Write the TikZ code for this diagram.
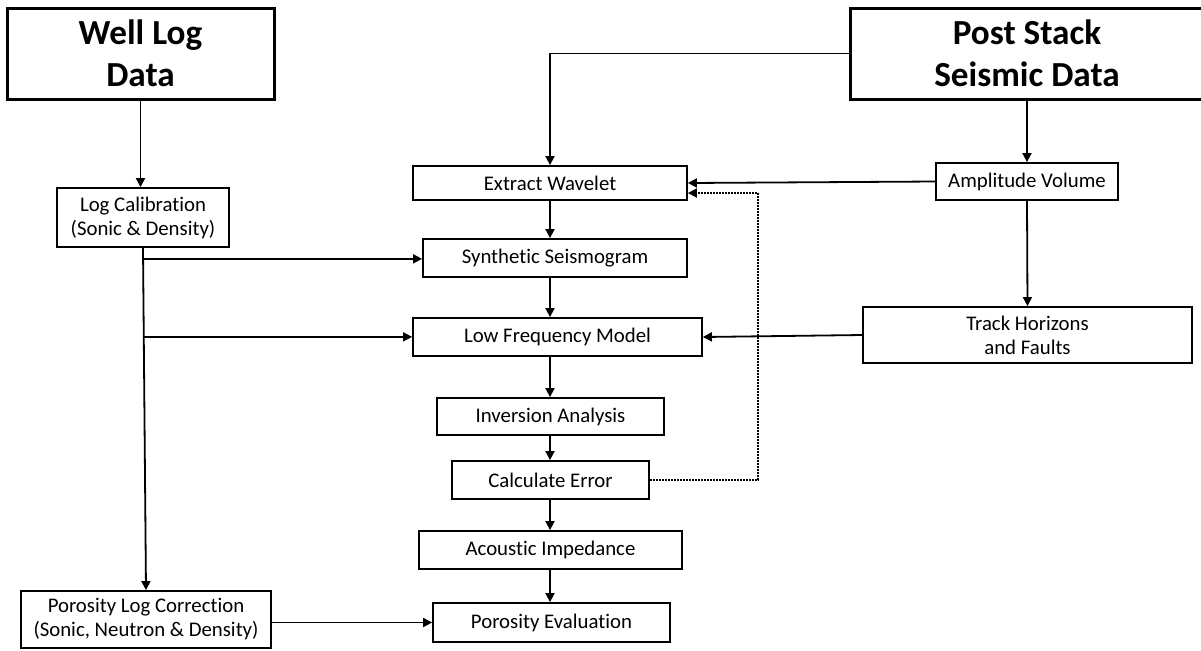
\documentclass[tikz,border=0pt]{standalone}
\usepackage{fontspec}
\setmainfont{Carlito}[Ligatures=NoCommon]
\usetikzlibrary{arrows.meta,positioning}

\begin{document}
\begin{tikzpicture}[
    x=0.5pt, y=-0.5pt,
    font=\fontsize{10.4}{12}\selectfont,
    source/.style={draw, line width=1.5pt, inner sep=0pt, align=center, font=\fontsize{17.6}{21}\selectfont\bfseries},
    stepbox/.style={draw, line width=0.9pt, inner sep=0pt, align=center},
    flow/.style={-{Triangle[length=4.5pt,width=4.5pt]}, line width=0.9pt},
    loop back/.style={flow, dash pattern=on 0.8pt off 0.7pt}
]
\useasboundingbox (0,0) rectangle (1201,650);

% inputs
\node[source, minimum width=133.5pt, minimum height=45.5pt] (wld) at (140.5,53.5) {Well Log\\Data};
\node[source, minimum width=177pt, minimum height=45.5pt] (pss) at (1027,53.5) {Post Stack\\Seismic Data};

% well log side
\node[stepbox, minimum width=86pt, minimum height=29.5pt] (lc) at (143,217.5) {Log Calibration\\(Sonic \& Density)};
\node[stepbox, minimum width=125pt, minimum height=28.5pt] (plc) at (146,619.5) {Porosity Log Correction\\(Sonic, Neutron \& Density)};

% seismic side
\node[stepbox, minimum width=91pt, minimum height=18.5pt] (av) at (1027,181.5) {Amplitude Volume};
\node[stepbox, minimum width=164.5pt, minimum height=28pt] (th) at (1027.5,335) {Track Horizons\\and Faults};

% main column
\node[stepbox, minimum width=137pt, minimum height=17pt] (ew) at (550,183) {Extract Wavelet};
\node[stepbox, minimum width=132pt, minimum height=19pt] (ss) at (555,258) {Synthetic Seismogram};
\node[stepbox, minimum width=144.5pt, minimum height=19pt] (lfm) at (557.5,337) {Low Frequency Model};
\node[stepbox, minimum width=113.5pt, minimum height=18.5pt] (ia) at (550.5,416.5) {Inversion Analysis};
\node[stepbox, minimum width=98.5pt, minimum height=19pt] (ce) at (550.5,480) {Calculate Error};
\node[stepbox, minimum width=131.5pt, minimum height=19pt] (ai) at (550.5,550) {Acoustic Impedance};
\node[stepbox, minimum width=118.5pt, minimum height=19.5pt] (pe) at (551.5,622.5) {Porosity Evaluation};

% well log connectors
\draw[flow] (wld.south) -- (wld.south |- lc.north);
\draw[flow] (lc.south) -- (plc.north)
  coordinate[pos=0.032] (b1) coordinate[pos=0.26] (b2);
\draw[flow] (b1) -- (b1 -| ss.west);
\draw[flow] (b2) -- (b2 -| lfm.west);
\draw[flow] (plc.east |- pe.west) -- (pe.west);

% seismic connectors
\draw[flow] (pss.west) -| (ew.north);
\draw[flow] (pss.south) -- (av.north);
\draw[flow] (av.west) -- (ew.east);
\draw[flow] (av.south) -- (th.north);
\draw[flow] (th.west) -- (lfm.east);

% main column connectors
\draw[flow] (ew.south) -- (ew.south |- ss.north);
\draw[flow] (ew.south |- ss.south) -- (ew.south |- lfm.north);
\foreach \i/\j in {lfm/ia, ia/ce, ce/ai, ai/pe}
  \draw[flow] (ew.south |- \i.south) -- (ew.south |- \j.north);

% error feedback
\draw[loop back] (ce.east) -- ++(54pt,0) |- ([yshift=-5pt]ew.east);
\end{tikzpicture}
\end{document}
